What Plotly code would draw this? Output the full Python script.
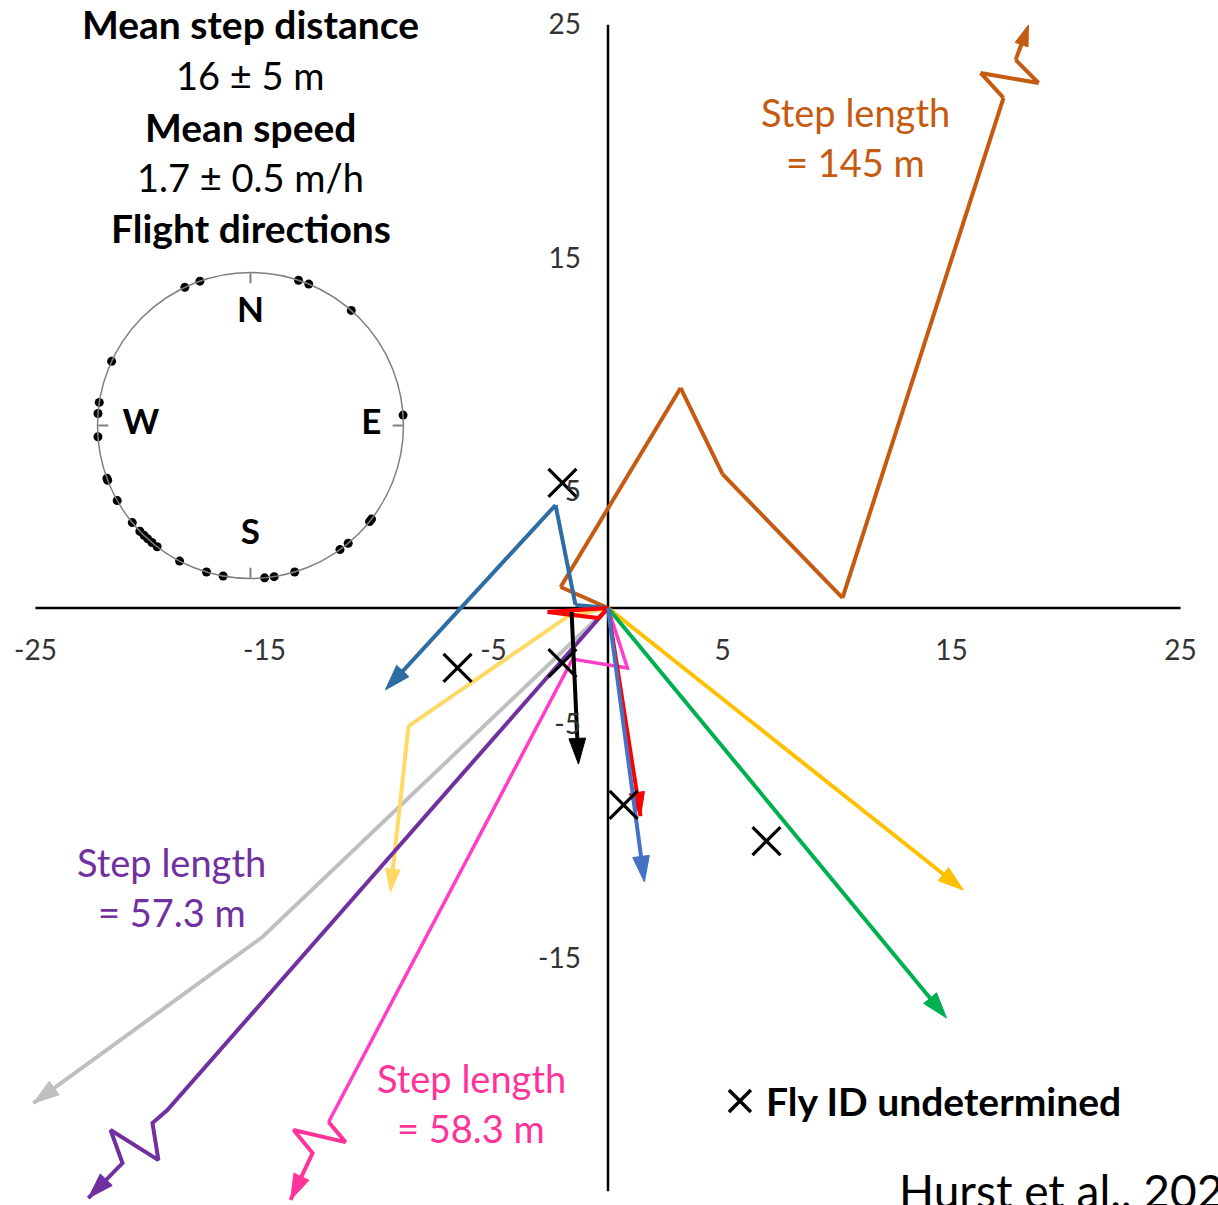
import plotly.graph_objects as go

# ---------------- data ----------------
AXIS_EXTENT = [-25, 25]
AXIS_ZERO = [0, 0]
TICK_VALUES = [-25, -15, -5, 5, 15, 25]
TICK_LABELS = ["-25", "-15", "-5", "5", "15", "25"]

# fly tracks (m, east / north of release point)
orange_x = [0, -2.07, 3.17, 5.00, 10.24, 17.27, 16.27, 18.80, 17.80, 18.10, 18.36]
orange_y = [0, 0.90, 9.43, 5.74, 0.43, 21.86, 22.93, 22.50, 23.49, 24.26, 24.99]

darkblue_x = [0, -1.42, -2.29, -9.72]
darkblue_y = [0, 0.13, 4.41, -3.51]

red_x = [0, -2.64, -0.41, 0, 1.42]
red_y = [0, -0.17, -0.43, 0, -8.92]

lightblue_x = [0, 1.59]
lightblue_y = [0, -11.74]

pink_x = [0, 0.85, -1.55, -12.20]
pink_y = [0, -2.57, -2.19, -22.03]
pinkbreak_x = [-12.20, -11.46, -13.73, -12.90, -13.86]
pinkbreak_y = [-22.03, -22.89, -22.37, -23.36, -25.37]

purple_x = [0, -19.24, -19.89, -19.63, -21.72, -21.20, -22.69]
purple_y = [0, -21.52, -22.07, -23.66, -22.37, -23.79, -25.29]

grey_x = [0, -15.09, -25.09]
grey_y = [0, -14.10, -21.22]

paleyellow_x = [0, -1.72, -8.71, -9.50]
paleyellow_y = [0, -0.34, -5.06, -12.17]

gold_x = [0, 15.52]
gold_y = [0, -12.09]

green_x = [0, 14.78]
green_y = [0, -17.57]

black_x = [-1.59, -1.29]
black_y = [-0.17, -6.69]

# flies whose ID could not be determined
unknown_x = [-1.99, -6.57, -1.99, 0.68, 6.92]
unknown_y = [5.36, -2.57, -2.36, -8.44, -9.99]

# key entry for the undetermined-fly symbol
key_x = [5.76]
key_y = [-21.13]
key_text_x = 6.79
key_text = "Fly ID undetermined"

# flight directions (bearing, degrees clockwise from north) on the compass inset
dir_bearing = [334.6, 340.7, 18.3, 22.4, 41.2, 86.1, 128.9, 127.7, 140.3, 144.2,
               163.2, 171.1, 174.7, 171.7, 190.3, 196.7, 207.6, 217.6, 220.1, 222.2,
               224.1, 226.3, 230.6, 240.6, 249.0, 249.8, 265.8, 274.5, 278.7, 274.0,
               294.8]
dir_radius = [1, 1, 1, 1, 1, 1, 1, 1, 1, 1,
              1, 1, 1, 1.05, 1, 1, 1, 1, 1, 1,
              1, 1, 1, 1, 1, 1, 1, 1, 1, 1.06,
              1]
compass_labels = ["N", "E", "S", "W"]
compass_theta = [0, 90, 180, 270]
compass_label_r = [0.735, 0.79, 0.72, 0.716]

info_lines = ["Mean step distance", "16 ± 5 m", "Mean speed", "1.7 ± 0.5 m/h", "Flight directions"]
info_bold = [True, False, True, False, True]
info_x = -15.59
info_y = [25.05, 22.85, 20.62, 18.47, 16.29]

step_labels = [
    ("Step length", "= 145 m", "#C55A11", 10.79, 21.26, 19.12),
    ("Step length", "= 57.3 m", "#7030A0", -19.04, -10.89, -13.03),
    ("Step length", "= 58.3 m", "#FF3399", -5.98, -20.15, -22.29),
]

FONT = "Lato"

fig = go.Figure()

# axes lines through the origin
fig.add_trace(go.Scatter(x=AXIS_EXTENT, y=AXIS_ZERO, mode="lines",
                         line=dict(color="black", width=2.5), hoverinfo="skip", showlegend=False))
fig.add_trace(go.Scatter(x=AXIS_ZERO, y=AXIS_EXTENT, mode="lines",
                         line=dict(color="black", width=2.5), hoverinfo="skip", showlegend=False))


def track(xs, ys, color, width=4, arrow=True, size=27):
    n = len(xs)
    sizes = [0] * (n - 1) + [size if arrow else 0]
    symbols = ["circle"] * (n - 1) + ["arrow"]
    fig.add_trace(go.Scatter(
        x=xs, y=ys, mode="lines+markers",
        line=dict(color=color, width=width),
        marker=dict(size=sizes, symbol=symbols, angleref="previous", color=color,
                    opacity=1, line=dict(width=1, color=color)),
        hoverinfo="skip", showlegend=False, cliponaxis=False))


track(grey_x, grey_y, "#BFBFBF", 4)
track(paleyellow_x, paleyellow_y, "#FFD966", 4, size=24)
track(purple_x, purple_y, "#7030A0", 4)
track(pink_x, pink_y, "#FF3DC8", 3.5, arrow=False)
track(pinkbreak_x, pinkbreak_y, "#FF3399", 4)
track(gold_x, gold_y, "#FFC000", 4)
track(green_x, green_y, "#00B050", 4)
track(orange_x, orange_y, "#C55A11", 4, size=22)
track(darkblue_x, darkblue_y, "#2E6CA4", 4)
track(red_x, red_y, "#FF0000", 4, size=25)
track(lightblue_x, lightblue_y, "#4472C4", 4)
track(black_x, black_y, "black", 4)

# undetermined flies
fig.add_trace(go.Scatter(
    x=unknown_x, y=unknown_y, mode="markers", name=key_text,
    marker=dict(symbol="x-thin", size=28, opacity=1, line=dict(color="black", width=3.2)),
    hoverinfo="skip", showlegend=False, cliponaxis=False))
fig.add_trace(go.Scatter(
    x=key_x, y=key_y, mode="markers", name=key_text,
    marker=dict(symbol="x-thin", size=22, opacity=1, line=dict(color="black", width=3.5)),
    hoverinfo="skip", showlegend=False, cliponaxis=False))

# compass inset
fig.add_trace(go.Scatterpolar(
    r=dir_radius, theta=dir_bearing, mode="markers",
    marker=dict(color="black", size=9, opacity=1), hoverinfo="skip", showlegend=False,
    cliponaxis=False, subplot="polar"))
fig.add_trace(go.Scatterpolar(
    r=compass_label_r, theta=compass_theta, mode="text", text=compass_labels,
    textfont=dict(family=FONT, size=35, color="black", weight="bold"),
    hoverinfo="skip", showlegend=False, cliponaxis=False, subplot="polar"))

annotations = []
for line, bold, yv in zip(info_lines, info_bold, info_y):
    annotations.append(dict(x=info_x, y=yv, xref="x", yref="y", text=line, showarrow=False,
                            xanchor="center", yanchor="middle",
                            font=dict(family=FONT, size=39 if bold else 38, color="black",
                                      weight="bold" if bold else "normal")))
for l1, l2, col, xv, y1, y2 in step_labels:
    for txt, yv in ((l1, y1), (l2, y2)):
        annotations.append(dict(x=xv, y=yv, xref="x", yref="y", text=txt, showarrow=False,
                                xanchor="center", yanchor="middle",
                                font=dict(family=FONT, size=38, color=col)))
annotations.append(dict(x=key_text_x, y=key_y[0], xref="x", yref="y", text=key_text,
                        showarrow=False, xanchor="left", yanchor="middle",
                        font=dict(family=FONT, size=39, color="black", weight="bold")))
annotations.append(dict(x=0.7474, y=0.0355, xref="paper", yref="paper", text="Hurst et al., 2024",
                        showarrow=False, xanchor="left", yanchor="top",
                        font=dict(family=FONT, size=46, color="black")))

axis_common = dict(range=[-25.5, 25.5], anchor="free", position=0.5, tickmode="array",
                   tickvals=TICK_VALUES, ticktext=TICK_LABELS, showgrid=False, zeroline=False,
                   showline=False, ticks="", automargin=False,
                   tickfont=dict(family=FONT, size=28, color="#333333"))

fig.update_layout(
    width=1218, height=1205,
    margin=dict(l=24, r=26, t=13, b=2),
    paper_bgcolor="white", plot_bgcolor="white",
    xaxis=dict(**axis_common, side="bottom", ticklabelstandoff=23),
    yaxis=dict(**axis_common, side="left", ticklabelstandoff=27),
    polar=dict(
        domain=dict(x=[0.0629, 0.3249], y=[0.5248, 0.7819]),
        bgcolor="rgba(0,0,0,0)",
        radialaxis=dict(visible=False, range=[0, 1]),
        angularaxis=dict(rotation=90, direction="clockwise", showticklabels=False,
                         ticks="inside", ticklen=10, tickwidth=1.5, tickcolor="#7F7F7F",
                         tickmode="array", tickvals=compass_theta, showgrid=False,
                         linecolor="#7F7F7F", linewidth=1.5),
    ),
    annotations=annotations,
    showlegend=False,
)

fig.write_html("out.html")
